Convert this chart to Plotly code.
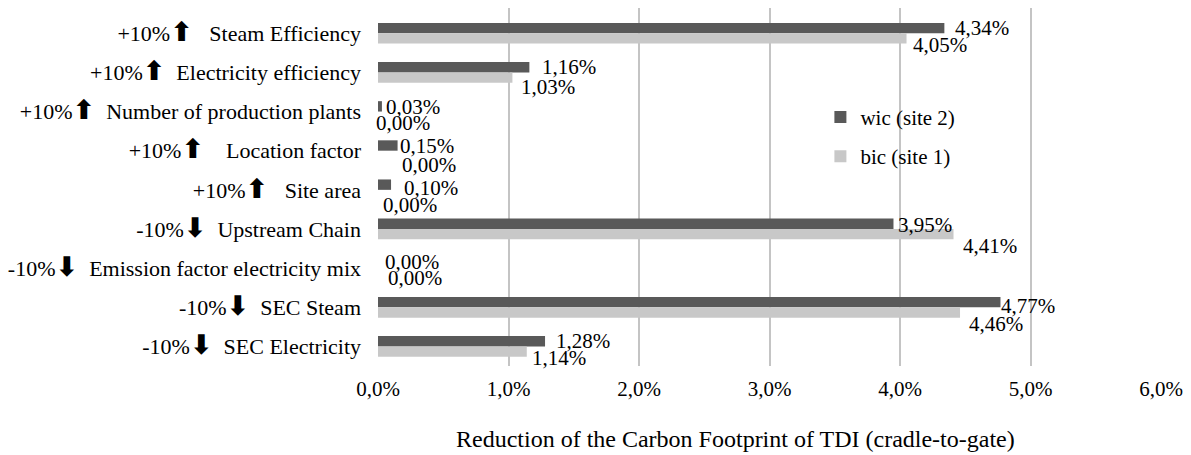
import plotly.graph_objects as go

# Sensitivity cases, listed top to bottom
change = ["+10%", "+10%", "+10%", "+10%", "+10%", "-10%", "-10%", "-10%", "-10%"]
direction = ["up", "up", "up", "up", "up", "down", "down", "down", "down"]
parameters = [
    "Steam Efficiency",
    "Electricity efficiency",
    "Number of production plants",
    "Location factor",
    "Site area",
    "Upstream Chain",
    "Emission factor electricity mix",
    "SEC Steam",
    "SEC Electricity",
]

# Reduction of the carbon footprint in percent
wic_site2 = [4.34, 1.16, 0.03, 0.15, 0.10, 3.95, 0.00, 4.77, 1.28]
bic_site1 = [4.05, 1.03, 0.00, 0.00, 0.00, 4.41, 0.00, 4.46, 1.14]

x_ticks = [0, 1, 2, 3, 4, 5, 6]
x_tick_labels = ["0,0%", "1,0%", "2,0%", "3,0%", "4,0%", "5,0%", "6,0%"]

# Pixel nudges for the value labels (dx right, dy down)
wic_label_dx = [11, 13, 4, 2, 13, 5, 7, 1, 11]
wic_label_dy = [0, 0, 1, 1, 3, 1, -1, 4, 0]
bic_label_dx = [6, 9, -2, 24, 5, 9, 10, 9, 5]
bic_label_dy = [6, 9, 6, 9, 10, 12, 5, 11, 6]

FONT = "Liberation Serif, Times New Roman, serif"
DARK = "#595959"
LIGHT = "#c8c8c8"
GRID = "#c4c4c4"

arrows = {"up": "\u2B06", "down": "\u2B07"}
gaps = ["\u00a0\u00a0\u00a0", "\u00a0\u00a0", "\u00a0\u00a0", "\u00a0\u00a0\u00a0\u00a0",
        "\u00a0\u00a0\u00a0", "\u00a0\u00a0", "\u00a0\u00a0", "\u00a0\u00a0", "\u00a0\u00a0"]
tick_text = [
    f"{c}<span style='font-family:DejaVu Sans;font-size:27px;font-weight:bold'>{arrows[d]}</span>{g}{p}"
    for c, d, g, p in zip(change, direction, gaps, parameters)
]


def pct(v):
    return f"{v:.2f}%".replace(".", ",")


fig = go.Figure()
fig.add_trace(go.Bar(
    y=parameters, x=wic_site2, orientation="h", name="wic (site 2)",
    marker=dict(color=DARK, line=dict(width=0)), legendgroup="a",
))
fig.add_trace(go.Bar(
    y=parameters, x=bic_site1, orientation="h", name="bic (site 1)",
    marker=dict(color=LIGHT, line=dict(width=0)), legendgroup="b",
))

# Value labels beside each bar end
BAR_HALF = 5.25
annotations = []
for p, v, dx, dy in zip(parameters, wic_site2, wic_label_dx, wic_label_dy):
    annotations.append(dict(
        x=v, y=p, text=pct(v), showarrow=False, xanchor="left", yanchor="middle",
        xshift=dx - 2, yshift=BAR_HALF - dy, font=dict(family=FONT, size=21, color="#000"),
    ))
for p, v, dx, dy in zip(parameters, bic_site1, bic_label_dx, bic_label_dy):
    annotations.append(dict(
        x=v, y=p, text=pct(v), showarrow=False, xanchor="left", yanchor="middle",
        xshift=dx - 2, yshift=-BAR_HALF - dy, font=dict(family=FONT, size=21, color="#000"),
    ))

# Axis title, set slightly left of the plot centre
annotations.append(dict(
    text="Reduction of the Carbon Footprint of TDI (cradle-to-gate)",
    xref="paper", yref="paper", x=0.456, y=-0.205, xanchor="center", yanchor="middle",
    showarrow=False, font=dict(family=FONT, size=24, color="#000"),
))

fig.update_layout(
    width=1191, height=455,
    margin=dict(l=378, r=26, t=8, b=89),
    paper_bgcolor="white", plot_bgcolor="white",
    font=dict(family=FONT, size=21, color="#000"),
    barmode="group", bargap=0.47, bargroupgap=0,
    annotations=annotations,
    showlegend=True,
    legend=dict(
        x=0.565, y=0.752, xanchor="left", yanchor="top",
        bgcolor="rgba(0,0,0,0)", traceorder="grouped", tracegroupgap=9,
        font=dict(family=FONT, size=21), itemwidth=30,
    ),
    xaxis=dict(
        range=[0, 6], tickvals=x_ticks, ticktext=x_tick_labels,
        showgrid=True, gridcolor=GRID, gridwidth=2, zeroline=False,
        showline=False, ticks="", ticklabelstandoff=8,
        tickfont=dict(family=FONT, size=21),
        fixedrange=True,
    ),
    yaxis=dict(
        categoryorder="array", categoryarray=parameters,
        autorange="reversed", tickvals=parameters, ticktext=tick_text,
        showgrid=False, zeroline=False, showline=False, ticks="",
        ticklabelstandoff=16, tickfont=dict(family=FONT, size=22),
        fixedrange=True,
    ),
)

fig.write_html("out.html")
